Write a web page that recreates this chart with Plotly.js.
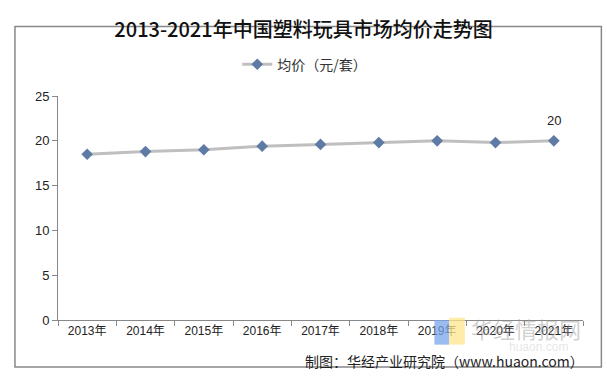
<!DOCTYPE html>
<html>
<head>
<meta charset="utf-8">
<script src="https://cdn.plot.ly/plotly-3.0.1.min.js"></script>
<style>
html,body{margin:0;padding:0;background:#fff;}
#chart{width:607px;height:382px;}
</style>
</head>
<body>
<div id="chart"></div>
<script>
const years = ["2013年","2014年","2015年","2016年","2017年","2018年","2019年","2020年","2021年"];
const avgPrice = [18.5, 18.8, 19.0, 19.4, 19.6, 19.8, 20.0, 19.8, 20.0];
const seriesName = "均价（元/套）";
const titleText = "2013-2021年中国塑料玩具市场均价走势图";
const sourceText = "制图：华经产业研究院（www.huaon.com）";

const cjk = "Noto Sans CJK SC, sans-serif";
const latin = "Liberation Sans, Arial, Noto Sans CJK SC, sans-serif";

const trace = {
  x: years,
  y: avgPrice,
  type: "scatter",
  mode: "lines+markers",
  name: seriesName,
  line: {color: "#BFBFBF", width: 3},
  marker: {symbol: "diamond", size: 9, color: "#5E7BA6"},
  hoverinfo: "x+y"
};

const lastIdx = avgPrice.length - 1;

const layout = {
  width: 607,
  height: 382,
  paper_bgcolor: "#fff",
  plot_bgcolor: "#fff",
  margin: {l: 58, r: 24, t: 96, b: 62},
  title: {
    text: titleText,
    font: {family: cjk, size: 20, color: "#111", weight: 500},
    x: 0.5, xanchor: "center",
    y: 0.921, yanchor: "middle"
  },
  showlegend: true,
  legend: {
    orientation: "h",
    x: 0.47, xanchor: "center",
    y: 1.14, yanchor: "middle",
    font: {family: cjk, size: 14, color: "#333"},
    itemwidth: 30
  },
  xaxis: {
    type: "category",
    range: [-0.5, 8.5],
    showline: true, linecolor: "#888", linewidth: 1,
    ticks: "outside", tickson: "boundaries", ticklen: 5, tickcolor: "#888",
    showgrid: false, zeroline: false,
    tickfont: {family: latin, size: 12, color: "#222"}
  },
  yaxis: {
    range: [0, 25],
    tickvals: [0, 5, 10, 15, 20, 25],
    showline: true, linecolor: "#888", linewidth: 1,
    ticks: "outside", ticklen: 5, tickcolor: "#888",
    showgrid: false, zeroline: false,
    tickfont: {family: latin, size: 13, color: "#222"}
  },
  shapes: [
    {type: "rect", xref: "paper", yref: "paper",
     x0: -0.082, x1: 1.035, y0: -0.21, y1: 1.31,
     line: {color: "#888", width: 1.5}, fillcolor: "rgba(0,0,0,0)", layer: "below"},
    {type: "rect", xref: "paper", yref: "paper",
     x0: 0.717, x1: 0.745, y0: -0.11, y1: 0.0,
     line: {width: 0}, fillcolor: "rgba(120,165,235,0.75)", layer: "above"},
    {type: "rect", xref: "paper", yref: "paper",
     x0: 0.745, x1: 0.775, y0: -0.11, y1: 0.01,
     line: {width: 0}, fillcolor: "rgba(255,230,140,0.75)", layer: "above"}
  ],
  annotations: [
    {x: years[lastIdx], y: avgPrice[lastIdx], xref: "x", yref: "y",
     text: String(avgPrice[lastIdx]), showarrow: false, yshift: 20,
     font: {family: latin, size: 13, color: "#222"}},
    {xref: "paper", yref: "paper", x: 1.0, y: -0.035, xanchor: "right", yanchor: "middle",
     text: "华经情报网", showarrow: false,
     font: {family: cjk, size: 22, color: "rgba(150,150,150,0.45)"}},
    {xref: "paper", yref: "paper", x: 0.975, y: -0.122, xanchor: "right", yanchor: "middle",
     text: "huaon.com", showarrow: false,
     font: {family: latin, size: 12, color: "rgba(180,180,180,0.35)"}},
    {xref: "paper", yref: "paper", x: 1.005, y: -0.185, xanchor: "right", yanchor: "middle",
     text: sourceText, showarrow: false,
     font: {family: cjk, size: 14, color: "#222"}}
  ]
};

Plotly.newPlot("chart", [trace], layout, {displayModeBar: false, staticPlot: true});
</script>
</body>
</html>
